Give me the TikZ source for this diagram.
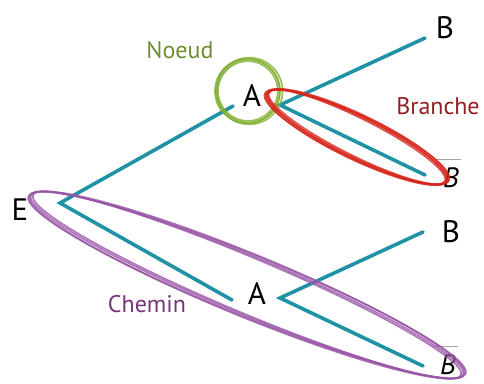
\documentclass[tikz,border=0pt]{standalone}
\usepackage{fontspec}
\setmainfont{PT Sans}

\definecolor{treecol}{RGB}{32,146,166}
\definecolor{noeudcol}{RGB}{128,174,48}
\definecolor{noeudtxt}{RGB}{108,142,48}
\definecolor{branchecol}{RGB}{214,38,28}
\definecolor{branchetxt}{RGB}{148,30,36}
\definecolor{chemincol}{RGB}{152,84,166}
\definecolor{chemintxt}{RGB}{118,52,122}

% B barre : trait gris au-dessus d'un B italique
\newcommand{\Bbarre}{\makebox[0pt][l]{\hspace{-0.3em}\raisebox{1.0em}[0pt][0pt]{\textcolor{gray!70}{\rule{0.95em}{1pt}}}}\textit{B}}

\begin{document}
\begin{tikzpicture}[x=1pt, y=-1pt,
          lettre/.style={font=\fontsize{31}{36}\selectfont, inner sep=0},
          barre/.style={font=\fontsize{28}{32}\selectfont, inner sep=0},
          etiq/.style={font=\fontsize{24}{28}\selectfont, inner sep=0},
          arbre/.style={draw=treecol, line width=3.6pt, line cap=round},
          trace/.style={line width=1.7pt, opacity=0.8}
        ]
        \useasboundingbox (0,0) rectangle (484,383);

        % ---- sommets de l'arbre ----
        \coordinate (racine) at (60,203);
        \coordinate (finA1)  at (233,106);
        \coordinate (finA2)  at (232,300);
        \coordinate (fourche1) at (280,105);
        \coordinate (fourche2) at (280,298);
        \coordinate (finB1)  at (425,38);
        \coordinate (finBb1) at (425,175);
        \coordinate (finB2)  at (423,232);
        \coordinate (finBb2) at (423,366);

        % ---- lettres ----
        \node[lettre] (E)   at (20,210)  {E};
        \node[lettre] (A1)  at (252,95)  {A};
        \node[lettre] (A2)  at (257,293) {A};
        \node[lettre] (B1)  at (445,28)  {B};
        \node[barre]  (Bb1) at (451,178) {\Bbarre};
        \node[lettre] (B2)  at (451,232) {B};
        \node[barre]  (Bb2) at (448,365) {\Bbarre};

        % ---- branches ----
        \draw[arbre] (finA1) -- (racine) -- (finA2);
        \draw[arbre] (finB1) -- (fourche1) -- (finBb1);
        \draw[arbre] (finB2) -- (fourche2) -- (finBb2);

        % ---- noeud (cercle vert) ----
        \foreach \dr/\dx in {0/0, 1.8/0.8, -1.6/-0.6, 0.8/-1.2}
          \draw[trace, draw=noeudcol] (248.5+\dx,91) circle [radius=31.5+\dr];

        % ---- branche (ellipse rouge) ----
        \begin{scope}[shift={(357,137)}, rotate=-26]
          \foreach \da/\db/\dt in {0/0/0, 1.8/1.6/0.7, -1.6/-1.4/-0.6, 0.9/2.4/0.3, -0.8/0.8/-0.2}
            \draw[trace, draw=branchecol, rotate=\dt] (0,0) ellipse [x radius=100+\da, y radius=20+\db];
        \end{scope}

        % ---- chemin (ellipse violette) ----
        \begin{scope}[shift={(247,285)}, rotate=-22.5]
          \foreach \da/\db/\dt in {0/0/0, 2/1.6/0.4, -1.8/-1.4/-0.3, 1/2.4/0.2}
            \draw[trace, draw=chemincol, rotate=\dt] (0,0) ellipse [x radius=234+\da, y radius=29+\db];
        \end{scope}

        % ---- etiquettes ----
        \node[etiq, text=noeudtxt]   (noeud)   at (180,50)  {Noeud};
        \node[etiq, text=branchetxt] (branche) at (438,106) {Branche};
        \node[etiq, text=chemintxt]  (chemin)  at (147,304) {Chemin};

      \end{tikzpicture}
\end{document}
